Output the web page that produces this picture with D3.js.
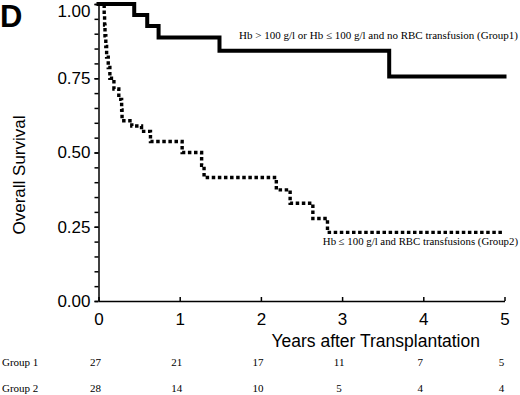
<!DOCTYPE html>
<html lang="en">
<meta charset="utf-8">
<script src="https://cdn.jsdelivr.net/npm/d3@7"></script>
<head>
    <style type="text/css">
        body { margin: 0; background: white; }
        .axis text { font-family: Arial, "Liberation Sans", sans-serif; font-size: 17px; fill: black; }
        .axis path, .axis line { stroke: black; stroke-width: 1.5; }
        .serif { font-family: "Times New Roman", "Liberation Serif", serif; fill: black; }
    </style>
</head>
<body>
<div id="chart"></div>
<script>
    // Kaplan-Meier steps
    const group1Times = [0, 0.44, 0.60, 0.74, 1.49, 3.58, 5.0];
    const group1Surv  = [1.00, 0.963, 0.926, 0.887, 0.843, 0.756, 0.756];

    const group2Times = [0, 0.07, 0.075, 0.08, 0.09, 0.10, 0.12, 0.14, 0.19, 0.25, 0.285, 0.29,
                         0.41, 0.53, 0.64, 1.03, 1.27, 1.30, 2.19, 2.36, 2.64, 2.82, 4.97];
    const group2Surv  = [1.00, 0.964, 0.929, 0.893, 0.857, 0.821, 0.786, 0.75, 0.714, 0.679, 0.643, 0.607,
                         0.589, 0.571, 0.537, 0.50, 0.457, 0.416, 0.374, 0.329, 0.278, 0.231, 0.231];

    const xTicks = [0, 1, 2, 3, 4, 5];
    const yTicks = [0, 0.25, 0.5, 0.75, 1.0];
    const atRiskGroup1 = [27, 21, 17, 11, 7, 5];
    const atRiskGroup2 = [28, 14, 10, 5, 4, 4];

    const width = 520, height = 395;

    const svg = d3.select("#chart")
        .append("svg")
        .attr("width", width)
        .attr("height", height);

    const x = d3.scaleLinear().domain([0, 5]).range([98.5, 504.5]);
    const y = d3.scaleLinear().domain([0, 1]).range([301, 4]);

    // minor y ticks every 0.05
    svg.append("g")
        .attr("class", "axis")
        .attr("transform", "translate(98.5,0)")
        .call(d3.axisLeft(y).tickValues(d3.range(0, 1.0001, 0.05)).tickSize(4).tickFormat(""))
        .select(".domain").remove();

    const yAxis = svg.append("g")
        .attr("class", "axis")
        .attr("transform", "translate(98.5,0)")
        .call(d3.axisLeft(y).tickValues(yTicks).tickSize(4).tickSizeOuter(0).tickPadding(4)
            .tickFormat(d3.format(".2f")));
    // top label sits a little lower so it stays on the page
    yAxis.selectAll(".tick text").filter(d => d === 1).attr("dy", "0.72em");

    svg.append("g")
        .attr("class", "axis")
        .attr("transform", "translate(0,301)")
        .call(d3.axisBottom(x).tickValues(xTicks).tickSize(-4).tickSizeOuter(0).tickPadding(12)
            .tickFormat(d3.format("d")));

    // axis titles
    svg.append("text")
        .attr("transform", "translate(25,175) rotate(-90)")
        .attr("text-anchor", "middle")
        .style("font-family", "Arial, 'Liberation Sans', sans-serif")
        .style("font-size", "17px")
        .text("Overall Survival");

    svg.append("text")
        .attr("x", (x(2) + x(5)) / 2 - 7)
        .attr("y", 347)
        .attr("text-anchor", "middle")
        .style("font-family", "Arial, 'Liberation Sans', sans-serif")
        .style("font-size", "17.5px")
        .text("Years after Transplantation");

    svg.append("text")
        .attr("x", 0)
        .attr("y", 27)
        .style("font-family", "Arial, 'Liberation Sans', sans-serif")
        .style("font-size", "31px")
        .style("font-weight", "bold")
        .text("D");

    // survival curves
    const line = d3.line()
        .x(d => x(d[0]))
        .y(d => y(d[1]))
        .curve(d3.curveStepAfter);

    svg.append("path")
        .datum(d3.zip(group1Times, group1Surv))
        .attr("d", line)
        .attr("fill", "none")
        .attr("stroke", "black")
        .attr("stroke-width", 4)
        .attr("stroke-linecap", "square");

    svg.append("path")
        .datum(d3.zip(group2Times, group2Surv))
        .attr("d", line)
        .attr("fill", "none")
        .attr("stroke", "black")
        .attr("stroke-width", 3.4)
        .attr("stroke-dasharray", "3.5,2.6");

    // curve labels
    svg.append("text")
        .attr("class", "serif")
        .attr("x", 518)
        .attr("y", 39)
        .attr("text-anchor", "end")
        .style("font-size", "11px")
        .text("Hb > 100 g/l or Hb \u2264 100 g/l and no RBC transfusion (Group1)");

    svg.append("text")
        .attr("class", "serif")
        .attr("x", 518)
        .attr("y", 245)
        .attr("text-anchor", "end")
        .style("font-size", "10.8px")
        .text("Hb \u2264 100 g/l and RBC transfusions (Group2)");

    // numbers at risk
    const rows = [["Group 1", atRiskGroup1, 366], ["Group 2", atRiskGroup2, 392]];
    rows.forEach(([name, vals, yy]) => {
        svg.append("text")
            .attr("class", "serif")
            .attr("x", 2)
            .attr("y", yy)
            .style("font-size", "11px")
            .text(name);
        svg.selectAll(null)
            .data(vals)
            .join("text")
            .attr("class", "serif")
            .attr("x", (d, i) => x(xTicks[i]) - 3)
            .attr("y", yy)
            .attr("text-anchor", "middle")
            .style("font-size", "11px")
            .text(d => d);
    });
</script>
</body>
</html>
